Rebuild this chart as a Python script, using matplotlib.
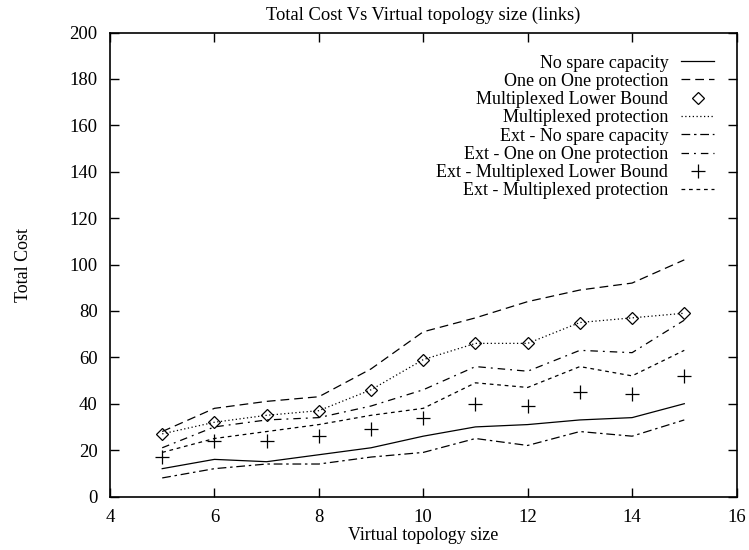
import matplotlib
matplotlib.use("Agg")
import matplotlib.pyplot as plt

plt.rcParams['font.family'] = ['Liberation Serif', 'DejaVu Serif']

sizes = [5, 6, 7, 8, 9, 10, 11, 12, 13, 14, 15]
no_spare = [12, 16, 15, 18, 21, 26, 30, 31, 33, 34, 40]
one_on_one = [28, 38, 41, 43, 55, 71, 77, 84, 89, 92, 102]
mux_lower = [27, 32, 35, 37, 46, 59, 66, 66, 75, 77, 79]
mux_prot = [27, 32, 35, 37, 46, 59, 66, 66, 75, 77, 79]
ext_no_spare = [8, 12, 14, 14, 17, 19, 25, 22, 28, 26, 33]
ext_one_on_one = [21, 30, 33, 34, 39, 46, 56, 54, 63, 62, 76]
ext_mux_lower = [17, 24, 24, 26, 29, 34, 40, 39, 45, 44, 52]
ext_mux_prot = [19, 25, 28, 31, 35, 38, 49, 47, 56, 52, 63]

fig = plt.figure(figsize=(7.49, 5.5), dpi=100)
ax = fig.add_axes([110/749, 1-496.5/550, (736.5-110)/749, (496.5-32.5)/550])

lw = 0.9
ax.plot(sizes, no_spare, color='black', lw=lw, ls='-', label='No spare capacity')
ax.plot(sizes, one_on_one, color='black', lw=lw, ls=(0, (7, 4)), label='One on One protection')
ax.plot(sizes, mux_lower, color='black', ls='none', marker='D', markersize=6,
        markerfacecolor='none', markeredgewidth=0.9, label='Multiplexed Lower Bound')
ax.plot(sizes, mux_prot, color='black', lw=lw, ls=(0, (1, 2)), label='Multiplexed protection')
ax.plot(sizes, ext_no_spare, color='black', lw=lw, ls=(0, (7, 3, 2, 3)), label='Ext - No spare capacity')
ax.plot(sizes, ext_one_on_one, color='black', lw=lw, ls=(0, (6, 4, 1.5, 4)), label='Ext - One on One protection')
ax.plot(sizes, ext_mux_lower, color='black', ls='none', marker='+', markersize=10,
        markeredgewidth=0.9, label='Ext - Multiplexed Lower Bound')
ax.plot(sizes, ext_mux_prot, color='black', lw=lw, ls=(0, (3, 3)), label='Ext - Multiplexed protection')

ax.set_xlim(4, 16)
ax.set_ylim(0, 200)
ax.set_xticks([4, 6, 8, 10, 12, 14, 16])
ax.set_yticks(range(0, 201, 20))
ax.tick_params(direction='in', length=6.5, width=1, top=True, right=True, labelsize=13.5)
ax.tick_params(axis='y', pad=9)
ax.tick_params(axis='x', pad=9)
for s in ax.spines.values():
    s.set_linewidth(1.2)

ax.set_title('Total Cost Vs Virtual topology size (links)', fontsize=13.3, pad=9)
ax.set_xlabel('Virtual topology size', fontsize=13, labelpad=1)
ax.set_ylabel('Total Cost', fontsize=13, labelpad=27)

leg = ax.legend(loc='upper right', bbox_to_anchor=(0.979, 0.972), frameon=False, markerfirst=False,
                fontsize=13, handlelength=1.85, labelspacing=0.07, handletextpad=0.7, borderpad=0)
for t in leg.get_texts():
    t.set_ha('right')

fig.savefig('out.png', dpi=100)
